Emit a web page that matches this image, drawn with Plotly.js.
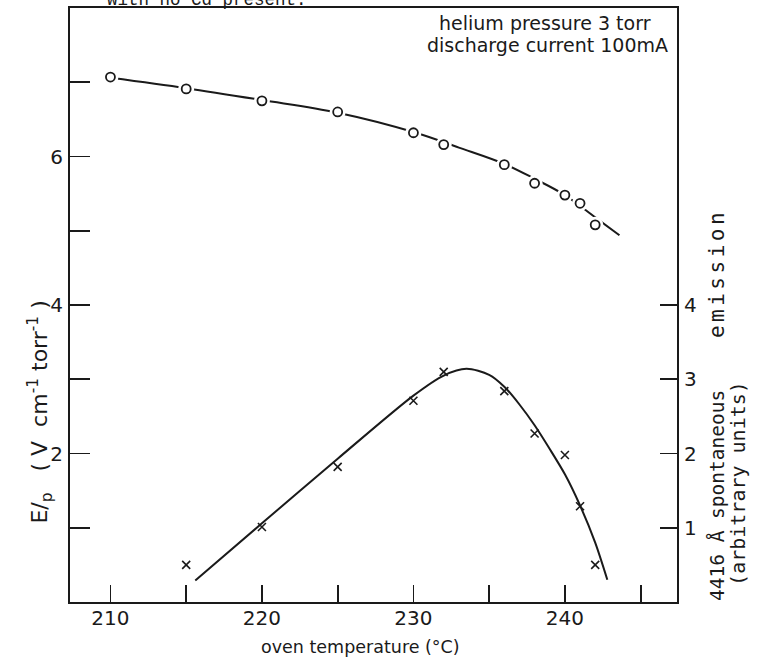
<!DOCTYPE html>
<html>
<head>
<meta charset="utf-8">
<script src="https://cdn.plot.ly/plotly-3.0.1.min.js"></script>
<style>
  html, body { margin: 0; padding: 0; background: #fff; }
  #chart { width: 764px; height: 662px; }
</style>
</head>
<body>
<div id="chart"></div>
<script>
// Oven temperature (°C) at which both quantities were measured
const tempEp = [210, 215, 220, 225, 230, 232, 236, 238, 240, 241, 242];
// E/p (V cm^-1 torr^-1), open circles, left axis
const valuesEp = [7.07, 6.91, 6.75, 6.60, 6.32, 6.16, 5.89, 5.64, 5.48, 5.37, 5.08];

const tempEm = [215, 220, 225, 230, 232, 236, 238, 240, 241, 242];
// 4416 Å spontaneous emission (arbitrary units), crosses, right axis
const valuesEm = [0.50, 1.01, 1.82, 2.71, 3.10, 2.84, 2.27, 1.98, 1.29, 0.50];

// Hand-drawn smooth curves through each data set
const curveEpT = [210, 215, 220, 225, 230, 233, 236, 238, 240, 242, 243.6];
const curveEpV = [7.06, 6.92, 6.76, 6.59, 6.33, 6.12, 5.90, 5.70, 5.48, 5.18, 4.94];
const curveEmT = [215.6, 220, 225, 230, 232, 233.5, 235, 236, 237, 238, 239, 240, 241, 242, 242.8];
const curveEmV = [0.29, 1.06, 1.93, 2.78, 3.05, 3.14, 3.06, 2.90, 2.66, 2.38, 2.06, 1.72, 1.30, 0.80, 0.30];

// Axis ticks
const xTickVals = [210, 215, 220, 225, 230, 235, 240, 245];
const xTickText = ['210', '', '220', '', '230', '', '240', ''];
const yTickVals = [1, 2, 3, 4, 5, 6, 7];
const yTickText = ['', '2', '', '4', '', '6', ''];
const y2TickVals = [1, 2, 3, 4];
const y2TickText = ['1', '2', '3', '4'];

const LETTER = '"DejaVu Sans", sans-serif';
const STENCIL = '"DejaVu Sans Mono", monospace';
const TYPE = '"Liberation Mono", "DejaVu Sans Mono", monospace';
const INK = '#1a1a1a';

const traces = [
  {
    x: curveEpT, y: curveEpV, mode: 'lines', type: 'scatter',
    line: { color: INK, width: 2, shape: 'spline', smoothing: 1 },
    hoverinfo: 'skip', showlegend: false
  },
  {
    // white halo: the pen lifts just before and after each circle
    x: tempEp, y: valuesEp, mode: 'markers', type: 'scatter',
    marker: { symbol: 'circle', size: 16, color: '#ffffff', line: { width: 0 } },
    hoverinfo: 'skip', showlegend: false
  },
  {
    x: tempEp, y: valuesEp, mode: 'markers', type: 'scatter',
    marker: { symbol: 'circle', size: 9, color: '#ffffff', line: { color: INK, width: 1.8 } },
    showlegend: false
  },
  {
    x: curveEmT, y: curveEmV, mode: 'lines', type: 'scatter', yaxis: 'y2',
    line: { color: INK, width: 2, shape: 'spline', smoothing: 0.8 },
    hoverinfo: 'skip', showlegend: false
  },
  {
    x: tempEm, y: valuesEm, mode: 'markers', type: 'scatter', yaxis: 'y2',
    marker: { symbol: 'x-thin-open', size: 8, color: INK, line: { color: INK, width: 1.6 } },
    showlegend: false
  }
];

// pixel row (from the top of the page) -> paper y for the 8..602 plot band
const rowToPaper = r => (602 - r) / 594;

const layout = {
  width: 764, height: 662,
  margin: { l: 69.5, r: 87, t: 8, b: 60, pad: 0 },
  paper_bgcolor: '#ffffff', plot_bgcolor: '#ffffff',
  font: { family: LETTER, color: INK, size: 19 },
  showlegend: false,
  xaxis: {
    range: [207.33, 247.40], showgrid: false, zeroline: false,
    showline: true, linecolor: INK, linewidth: 2, mirror: true,
    ticks: 'inside', ticklen: 17, tickwidth: 1.8, tickcolor: INK,
    tickvals: xTickVals, ticktext: xTickText, ticklabelstandoff: -3,
    tickfont: { family: LETTER, size: 20, color: INK }
  },
  yaxis: {
    range: [0, 8], showgrid: false, zeroline: false,
    showline: true, linecolor: INK, linewidth: 2,
    ticks: 'inside', ticklen: 20, tickwidth: 1.8, tickcolor: INK,
    tickvals: yTickVals, ticktext: yTickText, ticklabelstandoff: 1,
    tickfont: { family: LETTER, size: 20, color: INK }
  },
  yaxis2: {
    range: [0, 8], overlaying: 'y', side: 'right', showgrid: false, zeroline: false,
    showline: true, linecolor: INK, linewidth: 2,
    ticks: 'inside', ticklen: 17, tickwidth: 1.8, tickcolor: INK,
    tickvals: y2TickVals, ticktext: y2TickText, ticklabelstandoff: 1,
    tickfont: { family: LETTER, size: 20, color: INK }
  },
  annotations: [
    {
      text: 'oven temperature (°C)', xref: 'paper', yref: 'paper',
      x: 0.478, y: -0.0758, xanchor: 'center', yanchor: 'middle', showarrow: false,
      font: { family: LETTER, size: 17.5, color: INK }
    },
    {
      text: 'E/<sub>p</sub>   ( V  cm<sup>-1</sup> torr<sup>-1</sup> )', xref: 'paper', yref: 'paper',
      x: -0.05, y: 0.32, xanchor: 'center', yanchor: 'middle', textangle: -90, showarrow: false,
      font: { family: LETTER, size: 22, color: INK }
    },
    {
      text: '4416 Å spontaneous', xref: 'paper', yref: 'paper',
      x: 1.066, y: rowToPaper(496), xanchor: 'center', yanchor: 'middle', textangle: -90, showarrow: false,
      font: { family: STENCIL, size: 19.5, color: INK }
    },
    {
      text: 'emission', xref: 'paper', yref: 'paper',
      x: 1.066, y: rowToPaper(274), xanchor: 'center', yanchor: 'middle', textangle: -90, showarrow: false,
      font: { family: STENCIL, size: 21, color: INK }
    },
    {
      text: '(arbitrary units)', xref: 'paper', yref: 'paper',
      x: 1.1, y: 0.2, xanchor: 'center', yanchor: 'middle', textangle: -90, showarrow: false,
      font: { family: STENCIL, size: 20, color: INK }
    },
    {
      text: 'helium pressure 3 torr', xref: 'paper', yref: 'paper',
      x: (653 - 69.5) / 607.5, y: rowToPaper(23), xanchor: 'right', yanchor: 'middle', showarrow: false,
      font: { family: LETTER, size: 19, color: INK }
    },
    {
      text: 'discharge current 100mA', xref: 'paper', yref: 'paper',
      x: (670 - 69.5) / 607.5, y: rowToPaper(45), xanchor: 'right', yanchor: 'middle', showarrow: false,
      font: { family: LETTER, size: 19, color: INK }
    },
    {
      text: 'with no Cd present.', xref: 'paper', yref: 'paper',
      x: 0.058, y: 1.0337, xanchor: 'left', yanchor: 'top', showarrow: false,
      font: { family: TYPE, size: 17.5, color: INK }
    }
  ]
};

Plotly.newPlot('chart', traces, layout, { displayModeBar: false, staticPlot: true }).then(gd => {
  // the stencilled word "emission" is lettered with wide spacing
  gd.querySelectorAll('.annotation-text').forEach(t => {
    if (t.textContent === 'emission') {
      t.style.letterSpacing = '3.5px';
    }
  });
});
</script>
</body>
</html>
